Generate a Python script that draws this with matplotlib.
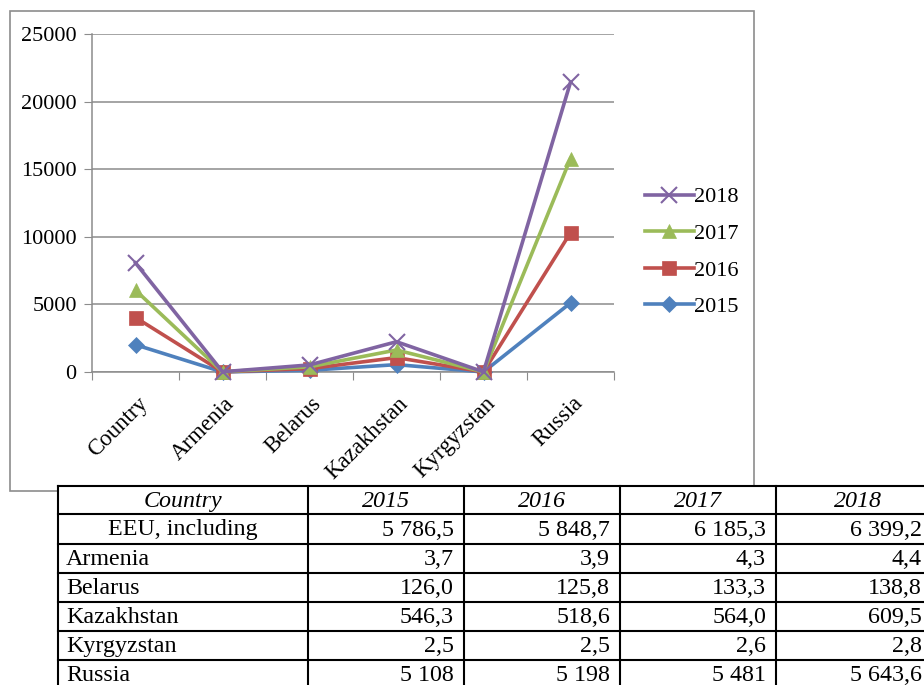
import numpy as np
import matplotlib
matplotlib.use('Agg')
import matplotlib.pyplot as plt
from matplotlib.patches import Rectangle

plt.rcParams['font.family'] = ['Liberation Serif', 'DejaVu Serif']

# chart data (stacked line chart, as in the source)
categories = ['Country', 'Armenia', 'Belarus', 'Kazakhstan', 'Kyrgyzstan', 'Russia']
years = ['2015', '2016', '2017', '2018']
v2015 = [2015, 3.7, 126.0, 546.3, 2.5, 5108]
v2016 = [2016, 3.9, 125.8, 518.6, 2.5, 5198]
v2017 = [2017, 4.3, 133.3, 564.0, 2.6, 5481]
v2018 = [2018, 4.4, 138.8, 609.5, 2.8, 5643.6]

# table below the chart
table_header = ['Country', '2015', '2016', '2017', '2018']
row_labels = ['EEU, including', 'Armenia', 'Belarus', 'Kazakhstan', 'Kyrgyzstan', 'Russia']
t2015 = ['5 786,5', '3,7', '126,0', '546,3', '2,5', '5 108']
t2016 = ['5 848,7', '3,9', '125,8', '518,6', '2,5', '5 198']
t2017 = ['6 185,3', '4,3', '133,3', '564,0', '2,6', '5 481']
t2018 = ['6 399,2', '4,4', '138,8', '609,5', '2,8', '5 643,6']

colors = ['#4F81BD', '#C0504D', '#9BBB59', '#8064A2']
markers = ['D', 's', '^', 'x']
msizes = [8, 10, 10, 11]

W, H = 924, 685
fig = plt.figure(figsize=(W / 100, H / 100), dpi=100)

# background / layout axes in pixel coordinates
bg = fig.add_axes([0, 0, 1, 1], zorder=0)
bg.set_xlim(0, W)
bg.set_ylim(H, 0)
bg.axis('off')
bg.add_patch(Rectangle((10, 11), 744, 480, fill=False, edgecolor='#8c8c8c', lw=1.2))

# chart
ax = fig.add_axes([92 / W, 1 - 372 / H, 522 / W, 338 / H], zorder=1)
ax.patch.set_alpha(0)
stacked = np.cumsum(np.array([v2015, v2016, v2017, v2018]), axis=0)
x = np.arange(len(categories))
for i in range(len(years)):
    ax.plot(x, stacked[i], color=colors[i], lw=2.6, marker=markers[i],
            markersize=msizes[i], markeredgewidth=1.5 if markers[i] == 'x' else 0.5,
            label=years[i], clip_on=False, zorder=3 + i)
ax.set_xlim(-0.5, len(categories) - 0.5)
ax.set_ylim(0, 25000)
ax.set_yticks(np.arange(0, 25001, 5000))
ax.yaxis.grid(True, color='#8c8c8c', lw=1.1)
ax.set_axisbelow(True)
for s in ['top', 'right']:
    ax.spines[s].set_visible(False)
for s in ['left', 'bottom']:
    ax.spines[s].set_color('#8c8c8c')
    ax.spines[s].set_linewidth(1.1)
ax.tick_params(axis='y', length=6, color='#8c8c8c', labelsize=16, pad=5)
ax.set_xticks(np.arange(-0.5, len(categories), 1.0))
ax.set_xticklabels([])
ax.tick_params(axis='x', length=6, color='#8c8c8c')
for xi, name in zip(x, categories):
    ax.annotate(name, (xi, 0), xytext=(1, -15), textcoords='offset points',
                rotation=45, ha='right', va='top', rotation_mode='anchor',
                fontsize=16.5)

handles, labels = ax.get_legend_handles_labels()
leg = fig.legend(handles[::-1], labels[::-1], loc='upper left',
                 bbox_to_anchor=(636 / W, 1 - 178 / H), frameon=False,
                 fontsize=16, handlelength=2.2, handletextpad=0.0,
                 labelspacing=0.72, borderaxespad=0)

# table
col_x = [58, 308, 464, 620, 776, 940]
row_y = [486, 514, 544, 573, 602, 631, 660, 689]
tbl_cols = [t2015, t2016, t2017, t2018]
bg.add_patch(Rectangle((58, 486), W, 220, facecolor='white', edgecolor='none', zorder=2))
for yy in row_y:
    bg.plot([58, W + 5], [yy, yy], color='black', lw=1.5, zorder=3, clip_on=False)
for xx in col_x:
    bg.plot([xx, xx], [486, H + 5], color='black', lw=1.5, zorder=3, clip_on=False)

fs = 17.3
for j, h in enumerate(table_header):
    bg.text((col_x[j] + col_x[j + 1]) / 2, (row_y[0] + row_y[1]) / 2 + 1, h,
            ha='center', va='center', style='italic', fontsize=fs, zorder=4)
for r, lab in enumerate(row_labels):
    yc = (row_y[r + 1] + row_y[r + 2]) / 2 + 1
    if r == 0:
        bg.text((col_x[0] + col_x[1]) / 2, yc, lab, ha='center', va='center', fontsize=fs, zorder=4)
    else:
        bg.text(col_x[0] + 8, yc, lab, ha='left', va='center', fontsize=fs, zorder=4)
    for c, col in enumerate(tbl_cols):
        right = col_x[c + 2] - 10 if c < 3 else 922
        bg.text(right, yc, col[r], ha='right', va='center', fontsize=fs, zorder=4)

fig.savefig('out.png', dpi=100)
